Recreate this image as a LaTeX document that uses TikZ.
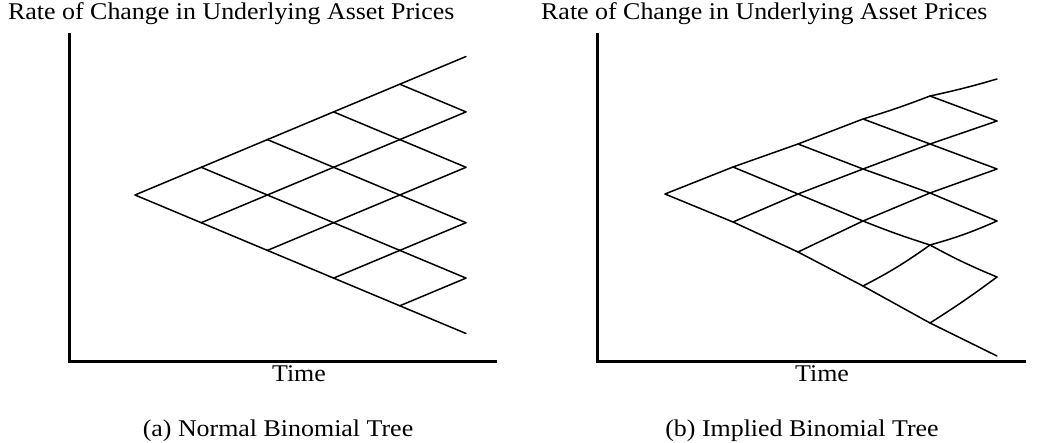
\documentclass[tikz,border=0pt]{standalone}
\usepackage{fontspec}
\setmainfont[FakeStretch=1.08]{Liberation Serif}
\begin{document}
\begin{tikzpicture}[x=1pt,y=-1pt,
  axis/.style={line width=3pt},
  edge/.style={line width=1.5pt,line cap=round,line join=round},
  lbl/.style={inner sep=0pt,font=\fontsize{24}{28}\selectfont}]
\useasboundingbox (0,0) rectangle (1056,443);
% ---------- left panel ----------
\node[lbl,anchor=base west] (tl) at (8,20) {Rate of Change in Underlying Asset Prices};
\node[lbl,anchor=base] (xl) at (299,381) {Time};
\node[lbl,anchor=base] (cl) at (278,436) {(a) Normal Binomial Tree};
\coordinate (la0) at (69,33);
\coordinate (la1) at (69,361);
\coordinate (la2) at (497,361);
\draw[axis] (la0) -- (la1) -- (la2);
\foreach \i in {0,...,5}{
  \foreach \j in {0,...,\i}{
    \coordinate (L\i-\j) at ({135+66.2*\i},{195-27.7*\i+55.4*\j});
  }
}
\foreach \i in {0,...,4}{
  \pgfmathtruncatemacro{\n}{\i+1}
  \foreach \j in {0,...,\i}{
    \pgfmathtruncatemacro{\k}{\j+1}
    \draw[edge] (L\i-\j) -- (L\n-\j);
    \draw[edge] (L\i-\j) -- (L\n-\k);
  }
}
% ---------- right panel ----------
\node[lbl,anchor=base west] (tr) at (541,20) {Rate of Change in Underlying Asset Prices};
\node[lbl,anchor=base] (xr) at (822,381) {Time};
\node[lbl,anchor=base] (cr) at (802,436) {(b) Implied Binomial Tree};
\coordinate (ra0) at (597,33);
\coordinate (ra1) at (597,361);
\coordinate (ra2) at (1026,361);
\draw[axis] (ra0) -- (ra1) -- (ra2);
\coordinate (R0-0) at (665,194);
\coordinate (R1-0) at (733,167);
\coordinate (R1-1) at (733,222);
\coordinate (R2-0) at (798,144);
\coordinate (R2-1) at (798,194);
\coordinate (R2-2) at (798,252);
\coordinate (R3-0) at (863,119);
\coordinate (R3-1) at (863,169);
\coordinate (R3-2) at (863,221);
\coordinate (R3-3) at (863,286);
\coordinate (R4-0) at (930,96);
\coordinate (R4-1) at (930,144);
\coordinate (R4-2) at (930,193);
\coordinate (R4-3) at (930,245);
\coordinate (R4-4) at (930,323);
\coordinate (R5-0) at (997,79);
\coordinate (R5-1) at (997,121);
\coordinate (R5-2) at (997,169);
\coordinate (R5-3) at (997,221);
\coordinate (R5-4) at (997,277);
\coordinate (R5-5) at (997,356);
\draw[edge] (R0-0) -- (R1-0);
\draw[edge] (R0-0) -- (R1-1);
\draw[edge] (R1-0) -- (R2-0);
\draw[edge] (R1-0) -- (R2-1);
\draw[edge] (R1-1) -- (R2-1);
\draw[edge] (R1-1) -- (R2-2);
\draw[edge] (R2-0) -- (R3-0);
\draw[edge] (R2-0) -- (R3-1);
\draw[edge] (R2-1) -- (R3-1);
\draw[edge] (R2-1) -- (R3-2);
\draw[edge] (R2-2) -- (R3-2);
\draw[edge] (R2-2) -- (R3-3);
\draw[edge] (R3-0) to[bend right=2] (R4-0);
\draw[edge] (R3-0) -- (R4-1);
\draw[edge] (R3-1) -- (R4-1);
\draw[edge] (R3-1) -- (R4-2);
\draw[edge] (R3-2) -- (R4-2);
\draw[edge] (R3-2) to[bend right=2] (R4-3);
\draw[edge] (R3-3) to[bend right=4] (R4-3);
\draw[edge] (R3-3) -- (R4-4);
\draw[edge] (R4-0) to[bend right=2] (R5-0);
\draw[edge] (R4-0) -- (R5-1);
\draw[edge] (R4-1) -- (R5-1);
\draw[edge] (R4-1) -- (R5-2);
\draw[edge] (R4-2) -- (R5-2);
\draw[edge] (R4-2) -- (R5-3);
\draw[edge] (R4-3) to[bend right=4] (R5-3);
\draw[edge] (R4-3) to[bend right=3] (R5-4);
\draw[edge] (R4-4) to[bend right=2] (R5-4);
\draw[edge] (R4-4) -- (R5-5);
\end{tikzpicture}
\end{document}
